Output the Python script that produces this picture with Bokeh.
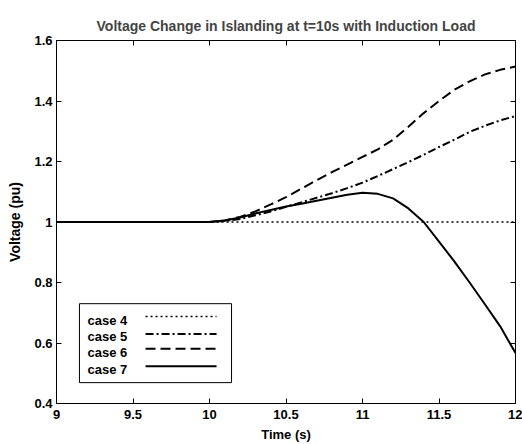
from bokeh.plotting import figure
from bokeh.models import (LinearAxis, Range1d, FixedTicker, CustomJSTickFormatter,
                          CustomLabelingPolicy, BoxAnnotation, Label)
from bokeh.embed import file_html
from bokeh.resources import INLINE

time = [9.0, 9.5, 10.0, 10.1, 10.2, 10.3, 10.4, 10.5, 10.6, 10.7, 10.8, 10.9,
        11.0, 11.1, 11.2, 11.3, 11.4, 11.5, 11.6, 11.7, 11.8, 11.9, 12.0]
case4 = [1.0, 1.0, 1.0, 1.0, 1.0, 1.0, 1.0, 1.0, 1.0, 1.0, 1.0, 1.0,
         1.0, 1.0, 1.0, 1.0, 1.0, 1.0, 1.0, 1.0, 1.0, 1.0, 1.0]
case5 = [1.0, 1.0, 1.0, 1.003, 1.01, 1.022, 1.035, 1.05, 1.065, 1.08, 1.095, 1.112,
         1.13, 1.152, 1.175, 1.198, 1.222, 1.248, 1.272, 1.298, 1.318, 1.336, 1.35]
case6 = [1.0, 1.0, 1.0, 1.005, 1.017, 1.035, 1.058, 1.082, 1.11, 1.138, 1.165, 1.19,
         1.215, 1.24, 1.272, 1.315, 1.36, 1.40, 1.437, 1.465, 1.488, 1.503, 1.514]
case7 = [1.0, 1.0, 1.0, 1.005, 1.015, 1.028, 1.04, 1.051, 1.06, 1.07, 1.08, 1.09,
         1.097, 1.093, 1.078, 1.045, 1.0, 0.935, 0.87, 0.80, 0.728, 0.655, 0.567]
series_names = ["case 4", "case 5", "case 6", "case 7"]
x_ticks = [9, 9.5, 10, 10.5, 11, 11.5, 12]
y_ticks = [0.4, 0.6, 0.8, 1.0, 1.2, 1.4, 1.6]

FONT = "Liberation Sans"

p = figure(width=522, height=444, output_backend="svg", toolbar_location=None,
           x_range=Range1d(9, 12), y_range=Range1d(0.4, 1.6),
           min_border_left=56, min_border_right=7, min_border_top=40, min_border_bottom=37)
p.background_fill_color = "white"
p.border_fill_color = "white"
p.outline_line_color = "black"
p.grid.visible = False

p.title.text = "Voltage Change in Islanding at t=10s with Induction Load"
p.title.align = "center"
p.title.text_font = FONT
p.title.text_font_style = "bold"
p.title.text_font_size = "14px"
p.title.standoff = 13

fmt = CustomJSTickFormatter(code="return Number(tick.toFixed(2)).toString();")
blank = CustomJSTickFormatter(code="return '';")
no_labels = CustomLabelingPolicy(code="""
const n = indices.size;
for (let i = 0; i < n; i++) { indices.unset(i); }
return indices;
""")

def style_axis(ax, labels=True):
    ax.axis_line_color = "black"
    ax.major_tick_line_color = "black"
    ax.major_tick_in = 5
    ax.major_tick_out = 0
    ax.minor_tick_line_color = None
    ax.major_label_text_font = FONT
    ax.major_label_text_font_style = "bold"
    ax.major_label_text_color = "black"
    ax.major_label_text_font_size = "13px"
    ax.axis_label_text_font = FONT
    ax.axis_label_text_font_style = "bold"
    ax.axis_label_text_font_size = "13px"
    ax.axis_label_text_color = "black"
    if labels:
        ax.formatter = fmt
    else:
        ax.formatter = blank
        ax.major_label_policy = no_labels
        ax.major_label_standoff = 0

p.xaxis.ticker = FixedTicker(ticks=x_ticks)
p.yaxis.ticker = FixedTicker(ticks=y_ticks)
p.xaxis.axis_label = "Time (s)"
p.yaxis.axis_label = "Voltage (pu)"
style_axis(p.xaxis[0])
style_axis(p.yaxis[0])
p.yaxis.axis_label_text_font_size = "14px"
p.xaxis.major_label_standoff = 6
p.xaxis.axis_label_standoff = 5
p.yaxis.major_label_standoff = 4
p.yaxis.axis_label_standoff = 8

top_ax = LinearAxis(ticker=FixedTicker(ticks=x_ticks))
right_ax = LinearAxis(ticker=FixedTicker(ticks=y_ticks))
style_axis(top_ax, labels=False)
style_axis(right_ax, labels=False)
p.add_layout(top_ax, "above")
p.add_layout(right_ax, "right")

styles = [("2 3", 1.5), ("8 3 2 3", 2), ("10 5", 2), ("solid", 2)]
for ys, (dash, w) in zip([case4, case5, case6, case7], styles):
    p.line(time, ys, line_color="black", line_width=w, line_dash=dash)

# legend: labels on the left, line samples on the right, as in the original
p.add_layout(BoxAnnotation(left=9.150, right=10.144, bottom=0.469, top=0.730,
                           fill_color="white", fill_alpha=1.0,
                           line_color="black", line_alpha=1.0, line_width=1,
                           level="underlay"))
label_y = [0.676, 0.622, 0.567, 0.512]
sample_y = [0.688, 0.630, 0.581, 0.523]
sample_x = [9.582, 10.046]
for name, ly, sy, (dash, w) in zip(series_names, label_y, sample_y, styles):
    p.add_layout(Label(x=9.203, y=ly, text=name, text_font=FONT, text_font_style="bold",
                       text_font_size="13px", text_baseline="middle", text_color="black"))
    p.line(sample_x, [sy, sy], line_color="black", line_width=w, line_dash=dash)

open("out.html", "w").write(file_html(p, INLINE))
